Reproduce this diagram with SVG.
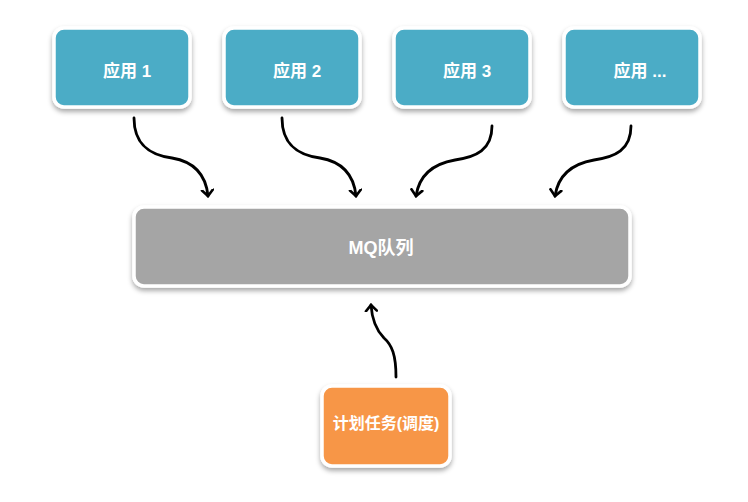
<svg xmlns="http://www.w3.org/2000/svg" width="748" height="502" viewBox="0 0 748 502">
<defs>
<filter id="sh" x="-10%" y="-10%" width="120%" height="130%">
<feDropShadow dx="0" dy="3" stdDeviation="2.5" flood-color="#000" flood-opacity="0.35"/>
</filter>
<marker id="arr" viewBox="-7 -7 14 14" refX="0" refY="0" markerWidth="14" markerHeight="14" markerUnits="userSpaceOnUse" orient="auto">
<path d="M-6,-5.5 L0,0 L-6,5.5" fill="none" stroke="#000" stroke-width="2.6" stroke-linecap="round" stroke-linejoin="miter"/>
</marker>
</defs>
<style>
.box{stroke:#fff;stroke-width:3.5;filter:url(#sh)}
.app{fill:#4BACC6}
.mq{fill:#A5A5A5}
.job{fill:#F79646}
.t{fill:#fff;font-family:"Liberation Sans","Noto Sans CJK SC",sans-serif;font-weight:bold;text-anchor:middle}
.c{fill:none;stroke:#000;stroke-width:2.8;stroke-linecap:round;marker-end:url(#arr)}
</style>
<rect width="748" height="502" fill="#fff"/>
<g id="app1"><rect class="box app" x="54" y="28" width="136" height="79" rx="10"/><text class="t" x="127" y="77" font-size="17">应用 1</text></g>
<g id="app2"><rect class="box app" x="224" y="28" width="136" height="79" rx="10"/><text class="t" x="297" y="77" font-size="17">应用 2</text></g>
<g id="app3"><rect class="box app" x="394" y="28" width="136" height="79" rx="10"/><text class="t" x="467" y="77" font-size="17">应用 3</text></g>
<g id="app4"><rect class="box app" x="564" y="28" width="136" height="79" rx="10"/><text class="t" x="640" y="77" font-size="17">应用 ...</text></g>
<g id="mq"><rect class="box mq" x="134" y="207" width="496" height="79" rx="10"/><text class="t" x="381" y="254" font-size="18">MQ队列</text></g>
<g id="job"><rect class="box job" x="322" y="386" width="128" height="80" rx="10"/><text class="t" x="386" y="429" font-size="16">计划任务(调度)</text></g>
<g id="connectors">
<path class="c" d="M134,118 C134,145 150,155 172,158 C196,162 206,176 208,196"/>
<path class="c" d="M282,118 C282,145 298,155 320,158 C344,162 354,176 356,196"/>
<path class="c" d="M492,126 C492,150 476,157 455,160 C432,164 419,176 416,196"/>
<path class="c" d="M631,126 C631,150 615,157 594,160 C571,164 558,176 555,196"/>
<path class="c" d="M396,377 C396,355 392,345 384,338 C376,330 372,320 371,305"/>
</g>
</svg>
